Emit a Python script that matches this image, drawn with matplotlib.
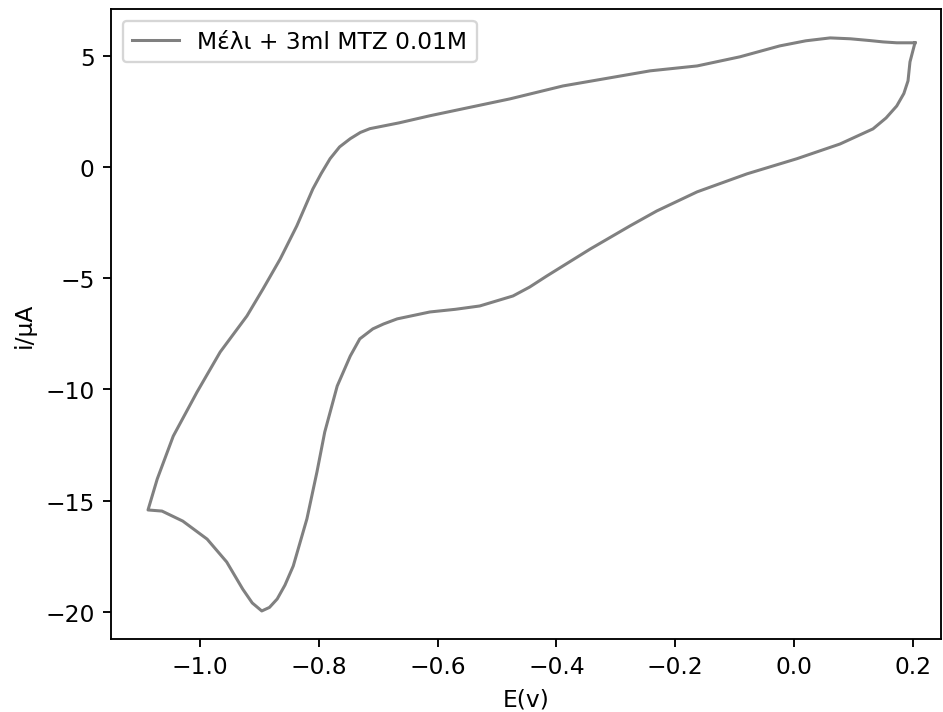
import matplotlib
matplotlib.use("Agg")
import matplotlib.pyplot as plt

# Cyclic voltammogram: cathodic sweep (0.2 V -> -1.09 V) then anodic return
potential_v = [
    0.2037, 0.1953, 0.192, 0.185, 0.173, 0.155, 0.133, 0.0774, 0.005, -0.079,
    -0.163, -0.231, -0.276, -0.343, -0.416, -0.445, -0.473, -0.529, -0.57, -0.613,
    -0.668, -0.691, -0.709, -0.731, -0.747, -0.769, -0.79, -0.803, -0.82, -0.843,
    -0.857, -0.87, -0.883, -0.896, -0.912, -0.928, -0.955, -0.988, -1.029, -1.064,
    -1.0875,
    -1.072, -1.045, -1.005, -0.966, -0.921, -0.894, -0.865, -0.837, -0.81, -0.796,
    -0.781, -0.765, -0.747, -0.73, -0.714, -0.665, -0.613, -0.478, -0.389, -0.242,
    -0.163, -0.091, -0.024, 0.02, 0.061, 0.095, 0.128, 0.15, 0.173, 0.2037,
]
current_ua = [
    5.58, 4.72, 3.87, 3.3, 2.74, 2.2, 1.71, 1.03, 0.37, -0.31,
    -1.12, -1.98, -2.65, -3.69, -4.9, -5.4, -5.8, -6.25, -6.4, -6.52,
    -6.83, -7.06, -7.28, -7.73, -8.5, -9.85, -11.92, -13.7, -15.82, -17.94,
    -18.8, -19.42, -19.8, -19.96, -19.6, -18.98, -17.76, -16.73, -15.92, -15.47,
    -15.42,
    -14.03, -12.1, -10.12, -8.32, -6.7, -5.49, -4.14, -2.65, -0.99, -0.3,
    0.37, 0.9, 1.27, 1.55, 1.72, 1.98, 2.3, 3.06, 3.64, 4.32,
    4.54, 4.95, 5.44, 5.67, 5.8, 5.76, 5.68, 5.62, 5.58, 5.58,
]
series_label = "Μέλι + 3ml MTZ 0.01M"

DPI = 168
fig = plt.figure(figsize=(944 / DPI, 713 / DPI), dpi=DPI)
ax = fig.add_axes([0.1176, 0.1024, 0.8792, 0.8836])
ax.plot(potential_v, current_ua, color="grey", linewidth=1.3, label=series_label)

ax.set_xlim(-1.1498, 0.2475)
ax.set_ylim(-21.22, 7.10)
ax.set_xticks([-1.0, -0.8, -0.6, -0.4, -0.2, 0.0, 0.2])
ax.set_yticks([-20, -15, -10, -5, 0, 5])
ax.set_xlabel("E(v)")
ax.set_ylabel("i/μA")
ax.legend(loc="upper left")

fig.savefig("out.png", dpi=DPI)
